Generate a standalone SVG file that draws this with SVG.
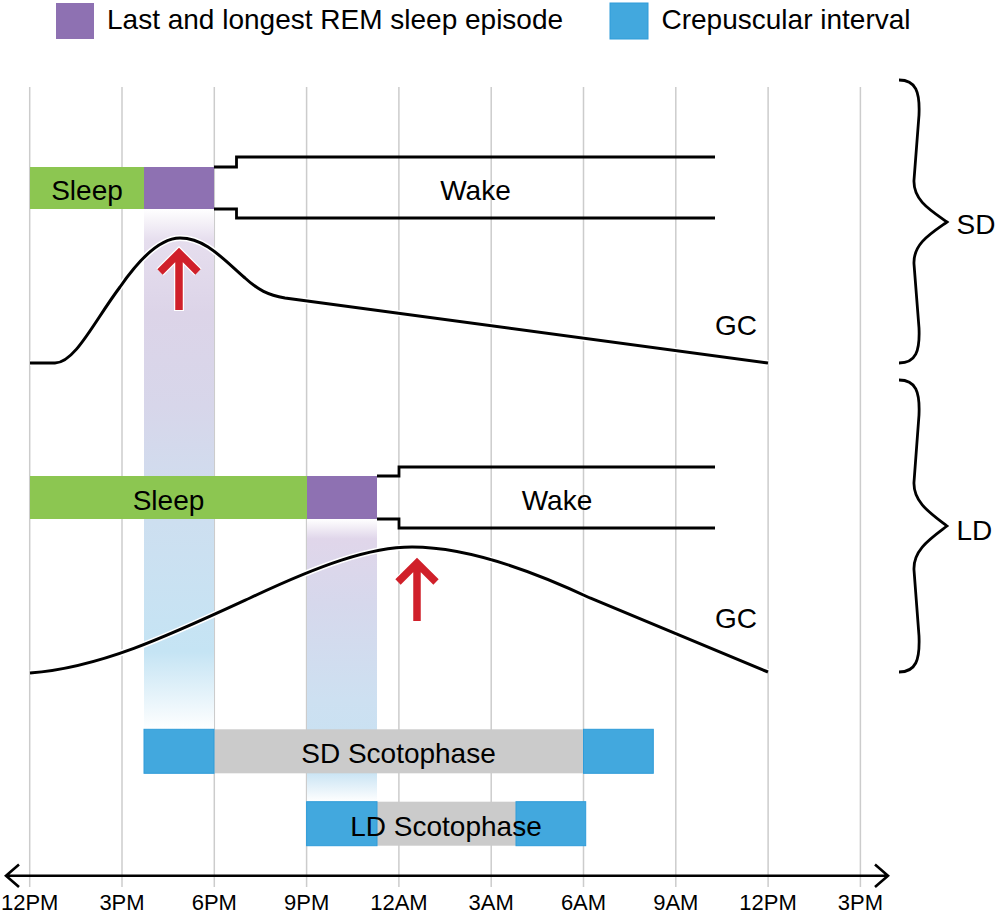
<svg xmlns="http://www.w3.org/2000/svg" width="997" height="916" viewBox="0 0 997 916">
<style>
text{font-family:"Liberation Sans",Arial,Helvetica,sans-serif;fill:#000}
.t28{font-size:28px}
.t22{font-size:22px}
.mid{text-anchor:middle}
.grid{stroke:#cccccc;stroke-width:1.5}
.green{fill:#8cc651}
.purple{fill:#8e71b2}
.blue{fill:#42a8de;stroke:#2f9cd9;stroke-width:1}
.gray{fill:#cbcbcb}
.outline{fill:none;stroke:#000;stroke-width:2.8}
.curve{fill:none;stroke:#000;stroke-width:3}
.halo{fill:none;stroke:#fff;stroke-width:6}
.brace{fill:none;stroke:#000;stroke-width:2.8}
.arr{fill:none;stroke:#d0202a;stroke-width:7.5;stroke-linejoin:miter;stroke-miterlimit:10}
.arrhalo{fill:none;stroke:#fff;stroke-width:10;stroke-linejoin:miter;stroke-miterlimit:10}
</style>
<defs>
<linearGradient id="gSD" x1="0" y1="0" x2="0" y2="1">
<stop offset="0" stop-color="#ffffff"/>
<stop offset="0.06" stop-color="#e6deee"/>
<stop offset="0.2" stop-color="#dcd4e8"/>
<stop offset="0.38" stop-color="#d7d6ea"/>
<stop offset="0.6" stop-color="#cddff0"/>
<stop offset="0.85" stop-color="#c5e4f4"/>
<stop offset="1" stop-color="#ffffff"/>
</linearGradient>
<linearGradient id="gLD" x1="0" y1="0" x2="0" y2="1">
<stop offset="0" stop-color="#ffffff"/>
<stop offset="0.07" stop-color="#e0d6ea"/>
<stop offset="0.3" stop-color="#d6d8ec"/>
<stop offset="0.64" stop-color="#cde0f1"/>
<stop offset="0.89" stop-color="#c6e2f3"/>
<stop offset="1" stop-color="#ffffff"/>
</linearGradient>
</defs>
<rect width="997" height="916" fill="#fff"/>

<g id="legend">
<rect x="56" y="3" width="38" height="36" class="purple"/>
<text class="t28" x="107" y="28.5">Last and longest REM sleep episode</text>
<rect x="610" y="3" width="38" height="36" class="blue"/>
<text class="t28" x="661.5" y="28.5">Crepuscular interval</text>
</g>

<g id="grid">
<line class="grid" x1="29.7" y1="87" x2="29.7" y2="887"/>
<line class="grid" x1="122" y1="87" x2="122" y2="887"/>
<line class="grid" x1="214.3" y1="87" x2="214.3" y2="887"/>
<line class="grid" x1="306.6" y1="87" x2="306.6" y2="887"/>
<line class="grid" x1="398.9" y1="87" x2="398.9" y2="887"/>
<line class="grid" x1="491.2" y1="87" x2="491.2" y2="887"/>
<line class="grid" x1="583.5" y1="87" x2="583.5" y2="887"/>
<line class="grid" x1="675.8" y1="87" x2="675.8" y2="887"/>
<line class="grid" x1="768.1" y1="87" x2="768.1" y2="887"/>
<line class="grid" x1="860.4" y1="87" x2="860.4" y2="887"/>
</g>

<g id="rem-columns">
<rect x="144" y="209" width="70" height="521" fill="url(#gSD)"/>
<rect x="307" y="519" width="70" height="283" fill="url(#gLD)"/>
</g>

<g id="sd-sleep">
<rect x="30" y="167" width="114" height="42" class="green"/>
<text class="t28 mid" x="87" y="200">Sleep</text>
</g>
<g id="sd-rem">
<rect x="144" y="167" width="70" height="42" class="purple"/>
</g>
<g id="sd-wake">
<path class="outline" d="M214,167 H236.5 V157 H715 M214,209 H236.5 V218 H715"/>
<text class="t28 mid" x="475.5" y="200">Wake</text>
</g>

<g id="ld-sleep">
<rect x="30" y="476" width="277" height="43" class="green"/>
<text class="t28 mid" x="168.5" y="509.5">Sleep</text>
</g>
<g id="ld-rem">
<rect x="307" y="476" width="70" height="43" class="purple"/>
</g>
<g id="ld-wake">
<path class="outline" d="M377,476 H399 V467 H715 M377,519 H399 V528 H715"/>
<text class="t28 mid" x="557" y="509.5">Wake</text>
</g>

<g id="sd-gc">
<path class="halo" d="M30,363 L55,363 C75,363 95,320 120,287 C140,258 160,238 180,238 C205,238 222,258 245,278 C258,290 268,295 285,298 L768,363"/>
<path class="curve" d="M30,363 L55,363 C75,363 95,320 120,287 C140,258 160,238 180,238 C205,238 222,258 245,278 C258,290 268,295 285,298 L768,363"/>
<text class="t28" x="715" y="335">GC</text>
</g>

<g id="ld-gc">
<path class="halo" d="M30,673 C100,668 170,635 250,598 C320,565 370,547 412,547 C460,547 520,565 590,598 L768,672"/>
<path class="curve" d="M30,673 C100,668 170,635 250,598 C320,565 370,547 412,547 C460,547 520,565 590,598 L768,672"/>
<text class="t28" x="715" y="628">GC</text>
</g>

<g id="sd-arrow">
<path class="arrhalo" d="M179,311 V253 M160,272 L179,253 L198,272"/>
<path class="arr" d="M179,310 V253 M160,272 L179,253 L198,272"/>
</g>
<g id="ld-arrow">
<path class="arrhalo" d="M417,622 V563 M398,582 L417,563 L436,582"/>
<path class="arr" d="M417,621 V563 M398,582 L417,563 L436,582"/>
</g>

<g id="sd-scotophase">
<rect x="214" y="729.3" width="369.5" height="44" class="gray"/>
<rect x="144" y="729.3" width="70" height="44" class="blue"/>
<rect x="583.5" y="729.3" width="69.8" height="44" class="blue"/>
<text class="t28 mid" x="398.5" y="763">SD Scotophase</text>
</g>
<g id="ld-scotophase">
<rect x="377" y="801.7" width="139" height="44" class="gray"/>
<rect x="306.6" y="801.7" width="70.4" height="44" class="blue"/>
<rect x="516" y="801.7" width="69.7" height="44" class="blue"/>
<text class="t28 mid" x="446" y="836">LD Scotophase</text>
</g>

<g id="sd-brace">
<path class="brace" d="M899,80 C916,80 920,92 919,115 L914,180 C913,200 930,210 947,222 C930,234 913,244 914,264 L919,328 C920,351 916,363 899,363"/>
<text class="t28" x="956.5" y="234">SD</text>
</g>
<g id="ld-brace">
<path class="brace" d="M899,380 C916,380 920,392 919,415 L914,482 C913,502 930,513 947,526 C930,539 913,550 914,570 L919,636 C920,660 916,672 899,672"/>
<text class="t28" x="956.5" y="540">LD</text>
</g>

<g id="connectors">
<path fill="none" stroke="#000" stroke-width="2.6" d="M7,875.7 H886 M19,864.5 L6,875.7 L19,887 M875,864.5 L888,875.7 L875,887"/>
</g>

<g id="axis-labels">
<text class="t22 mid" x="29.7" y="910">12PM</text>
<text class="t22 mid" x="122" y="910">3PM</text>
<text class="t22 mid" x="214.3" y="910">6PM</text>
<text class="t22 mid" x="306.6" y="910">9PM</text>
<text class="t22 mid" x="398.9" y="910">12AM</text>
<text class="t22 mid" x="491.2" y="910">3AM</text>
<text class="t22 mid" x="583.5" y="910">6AM</text>
<text class="t22 mid" x="675.8" y="910">9AM</text>
<text class="t22 mid" x="768.1" y="910">12PM</text>
<text class="t22 mid" x="860.4" y="910">3PM</text>
</g>
</svg>
